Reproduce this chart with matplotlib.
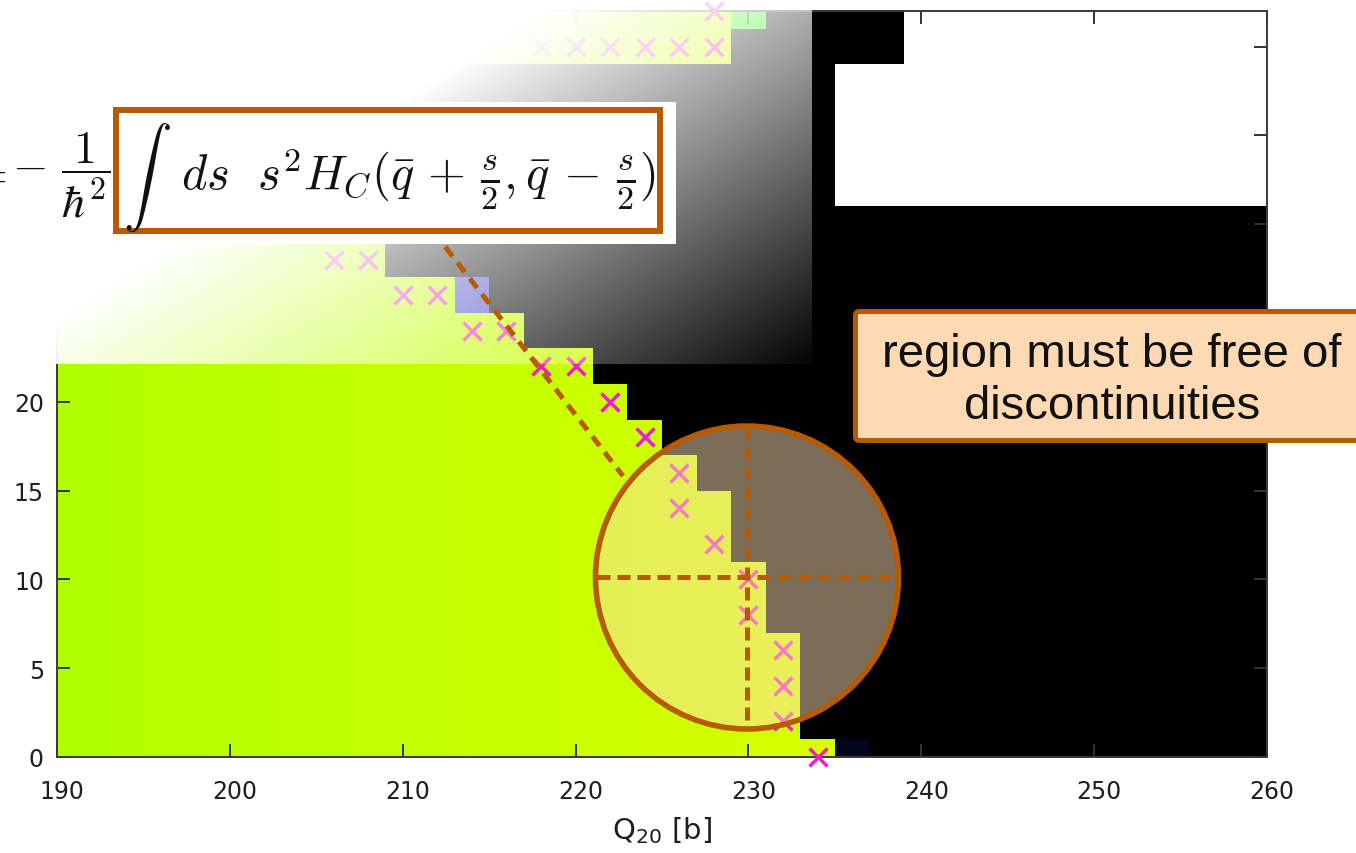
import numpy as np
import matplotlib
matplotlib.use("Agg")
import matplotlib.pyplot as plt
from matplotlib.colors import LinearSegmentedColormap, Normalize
from matplotlib.patches import Rectangle, Circle, FancyBboxPatch
from matplotlib.transforms import ScaledTranslation

plt.rcParams['mathtext.fontset'] = 'cm'

# grid: Q20 cell centres and Q30 rows
q20 = np.arange(190, 261, 2)
q30 = np.arange(0, 43, 2)

# last Q20 cell of the lower branch in every Q30 row
edge_q20 = [234, 232, 232, 232, 230, 230, 228, 228, 226, 224, 222, 220,
            216, 212, 208, 206, 206, 206, 206, 206, 228, 228]
# first Q20 cell without a solution (None = all computed)
nan_q20 = [None] * 16 + [236, 236, 236, 236, 240, 240]

# odd single cells
odd_q20 = [214, 230, 236]
odd_q30 = [26, 42, 0]
odd_col = ['#4848c8', '#20ff00', '#04041c']

# scission points
cross_q20 = [234, 232, 232, 232, 230, 230, 228, 226, 226, 224, 222, 218, 220,
             214, 216, 210, 212, 206, 208, 218, 220, 222, 224, 226, 228, 228]
cross_q30 = [0, 2, 4, 6, 8, 10, 12, 14, 16, 18, 20, 22, 22,
             24, 24, 26, 26, 28, 28, 40, 40, 40, 40, 40, 40, 42]

yticks = [0, 5, 10, 15, 20, 25, 30, 35, 40]
ylabels = ['0', '5', '10', '15', '20', '', '', '', '']

Z = np.full((len(q30), len(q20)), 999.0)
for i in range(len(q30)):
    for j, q in enumerate(q20):
        if q <= edge_q20[i]:
            Z[i, j] = q
        elif nan_q20[i] is not None and q >= nan_q20[i]:
            Z[i, j] = np.nan

cmap = LinearSegmentedColormap.from_list('lime', ['#b0ff00', '#d8ff00'])
cmap.set_over('black')
cmap.set_bad('white')

W, H = 1356, 854
fig = plt.figure(figsize=(W / 100, H / 100), dpi=100)
ax = fig.add_axes([57 / W, (H - 758) / H, (1267 - 57) / W, (758 - 12) / H])

xe = np.append(q20 - 1, q20[-1] + 1)
ye = np.append(q30 - 1, q30[-1] + 1)
ax.pcolormesh(xe, ye, np.ma.masked_invalid(Z), cmap=cmap,
              norm=Normalize(190, 236), zorder=1)
ax.bar(odd_q20, 2, width=2, bottom=np.array(odd_q30) - 1, color=odd_col, zorder=1.5)
ax.plot(cross_q20, cross_q30, 'x', ms=13.5, mew=2.5, color='#f01ec8',
        clip_on=False, zorder=3)

ax.set_xlim(190, 260)
ax.set_ylim(0, 42)
ax.set_xticks(np.arange(190, 261, 10))
ax.set_yticks(yticks)
ax.set_yticklabels(ylabels)
ax.tick_params(direction='in', length=9.4, width=1.4, color='#333333',
               top=True, right=True, labelsize=17, labelcolor='#1e1e1e')
ax.tick_params(axis='x', pad=16)
ax.tick_params(axis='y', pad=9.4)
shift = ScaledTranslation(5 / 100, 0, fig.dpi_scale_trans)
for lab in ax.get_xticklabels():
    lab.set_transform(lab.get_transform() + shift)
for sp in ax.spines.values():
    sp.set_color('#3a3a3a')
    sp.set_linewidth(1.4)
ax.set_xlabel('Q$_{20}$ [b]', fontsize=21, color='#1e1e1e', labelpad=8,
              math_fontfamily='dejavusans')

# slide overlay in pixel coordinates
ov = fig.add_axes([0, 0, 1, 1], zorder=5)
ov.patch.set_visible(False)
ov.axis('off')

gx, gy = np.meshgrid(np.arange(812) + 0.5, np.arange(365) + 0.5)
fade = np.ones((365, 812, 4))
fade[..., 3] = np.clip((1404 - gx - 1.58 * gy) / 838, 0, 1)
ov.imshow(fade, extent=(0, 812, 365, 0), aspect='auto',
          interpolation='bilinear', zorder=1)
ov.set_xlim(0, W)
ov.set_ylim(H, 0)

orange = '#b85b00'
ov.add_patch(Circle((747, 578.5), 151.5, fc=(1, 0.88, 0.71, 0.49),
                    ec=orange, lw=4.0, zorder=2))
ov.plot([597, 898], [578, 578], color=orange, lw=3.6, ls=(0, (2.6, 1.4)), zorder=3)
ov.plot([747, 747], [428, 729], color=orange, lw=3.6, ls=(0, (2.6, 1.4)), zorder=3)
ov.plot([433, 623], [232, 477], color=orange, lw=3.6, ls=(0, (2.4, 1.6)), zorder=3)

ov.add_patch(Rectangle((0, 103), 676, 142, fc='white', ec='none', zorder=4))
ov.add_patch(Rectangle((116, 111), 544, 121, fill=False, ec=orange, lw=4.3,
                       joinstyle='miter', zorder=5))
ink = '#111111'
ov.text(6, 175, r'$=$', fontsize=33, ha='right', va='center', color=ink, zorder=6)
ov.text(110, 175, r'$-\ \dfrac{1}{\hbar^2}$', fontsize=33, ha='right',
        va='center', color=ink, zorder=6)
ov.text(123, 194, r'$\int$', fontsize=35, ha='left', va='baseline',
        color=ink, zorder=6)
ov.text(181, 190,
        r'$ds\ \ s^2H_C(\bar{q}\,+\,\frac{s}{2},\bar{q}\,-\,\frac{s}{2})$',
        fontsize=35, ha='left', va='baseline', color=ink, zorder=6)

ov.add_patch(FancyBboxPatch((855.5, 312.5), 600, 129,
                            boxstyle='round,pad=0,rounding_size=4',
                            fc='#fdd9b4', ec=orange, lw=3.6, zorder=6))
ov.text(1112, 367, 'region must be free of', fontsize=34, family='Liberation Sans',
        ha='center', va='baseline', color=ink, zorder=7)
ov.text(1112, 419, 'discontinuities', fontsize=34, family='Liberation Sans',
        ha='center', va='baseline', color=ink, zorder=7)

fig.savefig('out.png', dpi=100)
